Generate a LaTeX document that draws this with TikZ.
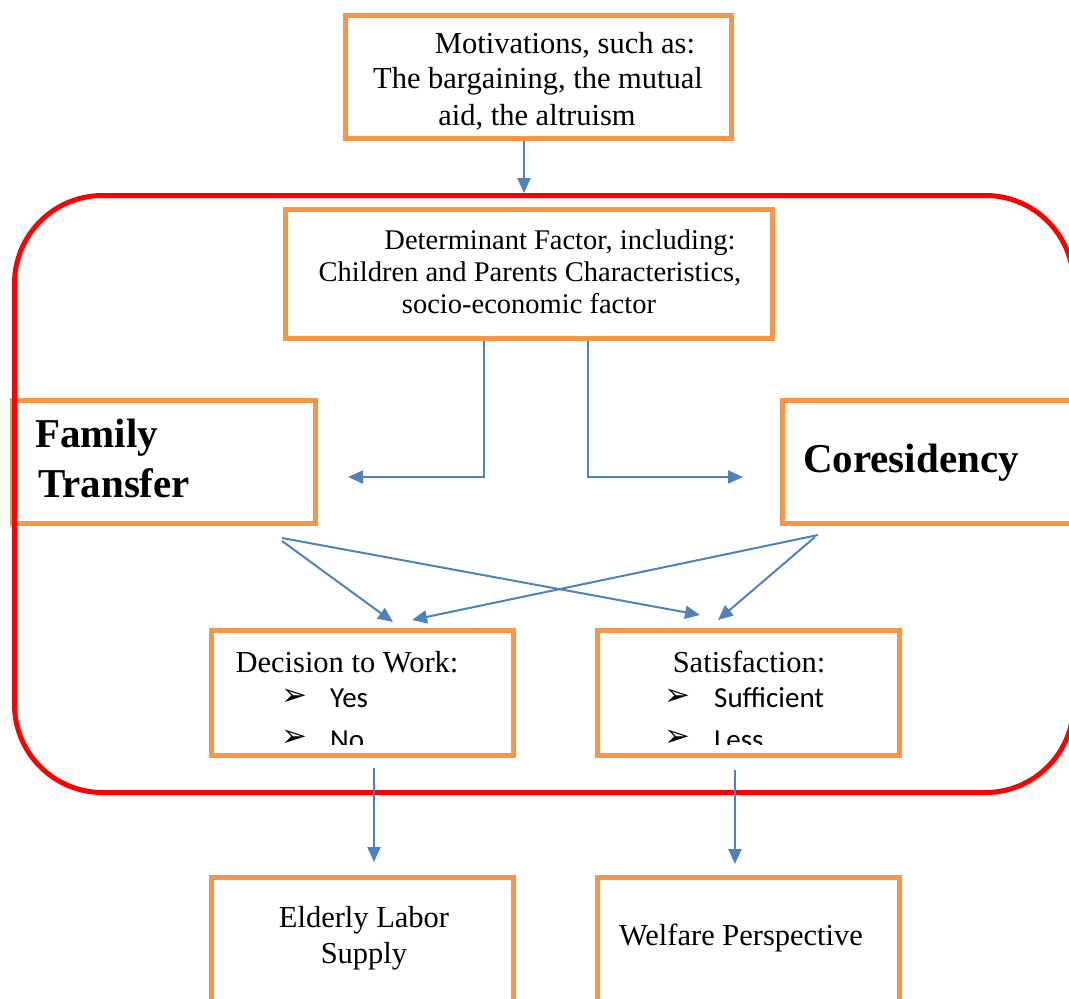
\documentclass[tikz,border=0pt]{standalone}
\usepackage{fontspec}
\setmainfont{Liberation Serif}
\newfontfamily\calib{Carlito}
\newfontfamily\djv{DejaVu Sans}
\usetikzlibrary{arrows.meta}
\definecolor{boxorange}{HTML}{F79646}
\definecolor{framered}{HTML}{FF0000}
\definecolor{linkblue}{HTML}{4F81BD}
\tikzset{
  obox/.style={draw=boxorange, line width=5pt, rectangle, inner sep=0pt},
  txt/.style={anchor=base, inner sep=0pt, font=\fontsize{30.5}{36}\selectfont},
  dtxt/.style={anchor=base, inner sep=0pt, font=\fontsize{28.5}{32}\selectfont},
  btxt/.style={anchor=base west, inner sep=0pt, font=\fontsize{41}{47}\selectfont\bfseries},
  bul/.style={anchor=base west, inner sep=0pt, font=\calib\fontsize{29}{34}\selectfont},
  bulmark/.style={anchor=center, inner sep=0pt, font=\djv\fontsize{31}{34}\selectfont},
  arr/.style={draw=linkblue, line width=2pt, -{Triangle[length=15pt,width=13pt]}}
}
\begin{document}
\begin{tikzpicture}[x=1pt,y=-1pt]
\useasboundingbox (0,0) rectangle (1069,999);
\clip (0,0) rectangle (1069,999);

% boxes
\node[obox, minimum width=386pt, minimum height=123pt] (mot) at (538,76.5) {};
\node[obox, minimum width=487pt, minimum height=129pt] (det) at (529,274) {};
\node[obox, minimum width=303pt, minimum height=123pt] (ft) at (164,462) {};
\node[obox, minimum width=308pt, minimum height=123pt] (co) at (936,462) {};
\node[obox, minimum width=302pt, minimum height=125pt] (dec) at (362.5,693) {};
\node[obox, minimum width=302pt, minimum height=125pt] (sat) at (748.5,693) {};
\node[obox, minimum width=302pt, minimum height=135pt] (els) at (362.5,945) {};
\node[obox, minimum width=302pt, minimum height=135pt] (wp) at (748.5,945) {};

% red frame
\node[draw=framered, line width=5pt, rectangle, rounded corners=88pt, inner sep=0pt,
      minimum width=1059pt, minimum height=597pt] (frame) at (544,494) {};

% texts
\node[txt] (mot1) at (565,53) {Motivations, such as:};
\node[txt] (mot2) at (538,88) {The bargaining, the mutual};
\node[txt] (mot3) at (537,125) {aid, the altruism};

\node[dtxt] (det1) at (560,249) {Determinant Factor, including:};
\node[dtxt] (det2) at (530,281) {Children and Parents Characteristics,};
\node[dtxt] (det3) at (529,313) {socio-economic factor};

\node[btxt] (ft1) at (35,447) {Family};
\node[btxt] (ft2) at (38,497) {Transfer};
\node[btxt] (co1) at (803,472) {Coresidency};

\node[txt] (dec1) at (347,672) {Decision to Work:};
\node[bulmark] (decb1) at (294,697) {➢};
\node[bul] (decy) at (330,707) {Yes};
\node[txt] (sat1) at (749,672) {Satisfaction:};
\node[bulmark] (satb1) at (677,697) {➢};
\node[bul] (sats) at (714,707) {Sufficient};
\begin{scope}
  \clip (214,715) rectangle (897,744);
  \node[bulmark] (decb2) at (294,738) {➢};
  \node[bul] (decn) at (330,749) {No};
  \node[bulmark] (satb2) at (677,738) {➢};
  \node[bul] (satl) at (714,749) {Less};
\end{scope}

\node[txt] (els1) at (364,927) {Elderly Labor};
\node[txt] (els2) at (364,963) {Supply};
\node[txt] (wp1) at (741,945) {Welfare Perspective};

% connector coordinates
\coordinate (mx) at (524,0);
\coordinate (dlx) at (484,0);
\coordinate (drx) at (588,0);
\coordinate (ftin) at (348,477);
\coordinate (coin) at (743,477);
\coordinate (ftout1) at (282,541);
\coordinate (ftout2) at (282,538);
\coordinate (coout1) at (818,535);
\coordinate (coout2) at (815,537);
\coordinate (decin1) at (393,622);
\coordinate (satin1) at (700,615);
\coordinate (decin2) at (412,620);
\coordinate (satin2) at (718,620);
\coordinate (lx) at (374,0);
\coordinate (rx) at (735,0);

% connectors
\draw[arr] (mot.south -| mx) -- (frame.north -| mx);
\draw[arr] (det.south -| dlx) |- (ftin);
\draw[arr] (det.south -| drx) |- (coin);
\draw[arr] (ftout1) -- (decin1);
\draw[arr] (ftout2) -- (satin1);
\draw[arr] (coout1) -- (decin2);
\draw[arr] (coout2) -- (satin2);
\draw[arr, shorten <=10pt, shorten >=13pt] (dec.south -| lx) -- (els.north -| lx);
\draw[arr, shorten <=12pt, shorten >=11pt] (sat.south -| rx) -- (wp.north -| rx);
\end{tikzpicture}
\end{document}
